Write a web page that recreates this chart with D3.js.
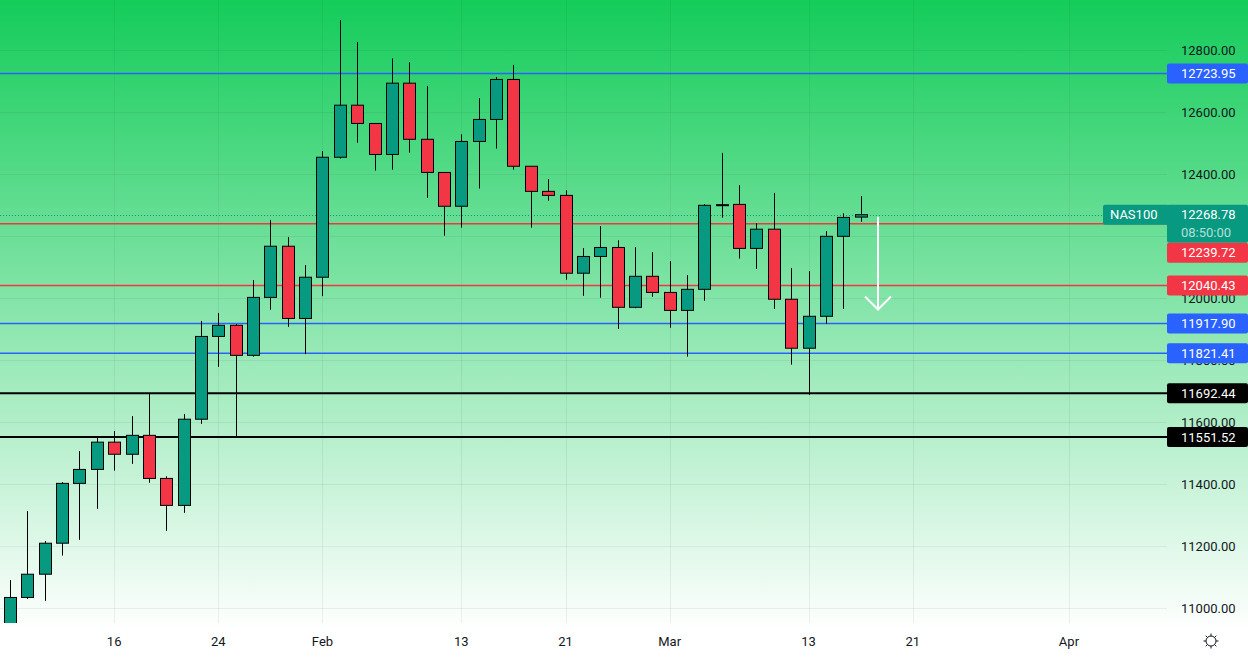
<!DOCTYPE html>
<html>
<head>
<meta charset="utf-8">
<script src="https://cdn.jsdelivr.net/npm/d3@7/dist/d3.min.js"></script>
<style>
  html, body { margin: 0; padding: 0; background: #fff; }
  svg { display: block; font-family: Roboto, "Liberation Sans", sans-serif; }
</style>
</head>
<body>
<svg id="chart" width="1248" height="658"></svg>
<script>
(function () {
  'use strict';

  // NAS100 daily candles, first bar = 2023-01-06, weekdays only
  var firstDay = '2023-01-06';
  var opens = [10930, 11034, 11109, 11209, 11402, 11447, 11535, 11496, 11557, 11418,
    11331, 11609, 11876, 11912, 11815, 12002, 12167, 11934, 12067, 12454,
    12622, 12563, 12463, 12693, 12512, 12405, 12296, 12505, 12576, 12705,
    12425, 12344, 12331, 12080, 12134, 12163, 11970, 12070, 12018, 11960,
    12028, 12299, 12302, 12160, 12222, 11996, 11838, 11941, 12199, 12261];
  var highs = [11090, 11313, 11216, 11406, 11506, 11551, 11571, 11619, 11693, 11425,
    11626, 11926, 11952, 11916, 12058, 12252, 12197, 12106, 12474, 12897,
    12826, 12563, 12773, 12761, 12684, 12405, 12528, 12645, 12713, 12752,
    12425, 12384, 12348, 12161, 12232, 12186, 12164, 12148, 12119, 12074,
    12303, 12468, 12364, 12241, 12339, 12097, 12087, 12216, 12273, 12329];
  var lows = [10900, 11029, 11023, 11169, 11220, 11320, 11443, 11465, 11404, 11249,
    11307, 11594, 11778, 11555, 11811, 11962, 11907, 11819, 12006, 12450,
    12501, 12411, 12414, 12469, 12323, 12201, 12227, 12353, 12482, 12414,
    12227, 12314, 12059, 12007, 12001, 11900, 11967, 12004, 11904, 11811,
    11991, 12259, 12127, 12094, 11965, 11785, 11687, 11917, 11965, 12246];
  var closes = [11034, 11109, 11209, 11402, 11447, 11535, 11496, 11557, 11418, 11331,
    11609, 11876, 11912, 11815, 12002, 12167, 11934, 12067, 12454, 12622,
    12563, 12463, 12693, 12512, 12405, 12296, 12505, 12576, 12705, 12425,
    12344, 12331, 12080, 12134, 12163, 11970, 12070, 12018, 11960, 12028,
    12299, 12301, 12160, 12222, 11996, 11838, 11941, 12199, 12260, 12268.78];

  // horizontal levels drawn on the chart
  var levelPrices = [12723.95, 12239.72, 12040.43, 11917.90, 11821.41, 11692.44, 11551.52];
  var levelKinds = ['blue', 'red', 'red', 'blue', 'blue', 'black', 'black'];

  var symbol = 'NAS100';
  var lastPrice = 12268.78;
  var countdown = '08:50:00';

  var priceTicks = [11000, 11200, 11400, 11600, 11800, 12000, 12200, 12400, 12600, 12800];
  var dateTickDays = ['2023-01-16', '2023-01-24', '2023-02-01', '2023-02-13', '2023-02-21',
    '2023-03-01', '2023-03-13', '2023-03-21', '2023-04-03'];
  var dateTickLabels = ['16', '24', 'Feb', '13', '21', 'Mar', '13', '21', 'Apr'];

  // projected move (white arrow), bar index and prices
  var arrowBar = 50;
  var arrowFrom = 12262;
  var arrowTo = 11963;

  var colors = {
    up: '#089981', down: '#f23645', blue: '#2962ff', red: '#f23645', black: '#000000',
    text: '#131722'
  };

  var W = 1248, H = 658;
  var plotW = 1167, plotH = 623;

  // trading-day index (weekdays) from the first bar
  function barIndex(dayStr) {
    var d0 = new Date(firstDay + 'T00:00:00Z');
    var d1 = new Date(dayStr + 'T00:00:00Z');
    var n = 0;
    for (var t = new Date(d0); t < d1; t.setUTCDate(t.getUTCDate() + 1)) {
      var wd = t.getUTCDay();
      if (wd !== 0 && wd !== 6) n++;
    }
    return n;
  }

  var x = d3.scaleLinear().domain([0, 61]).range([10, 10 + 61 * 17.36]);
  var y = d3.scaleLinear().domain([11000, 12800]).range([608, 50]);

  var svg = d3.select('#chart');
  var defs = svg.append('defs');

  var grad = defs.append('linearGradient').attr('id', 'bg')
    .attr('x1', 0).attr('y1', 0).attr('x2', 0).attr('y2', 1);
  grad.append('stop').attr('offset', '0%').attr('stop-color', '#14cc5a');
  grad.append('stop').attr('offset', '100%').attr('stop-color', '#ffffff');

  defs.append('clipPath').attr('id', 'plotClip')
    .append('rect').attr('x', 0).attr('y', 0).attr('width', plotW).attr('height', plotH);

  svg.append('rect').attr('x', 0).attr('y', 0).attr('width', W).attr('height', H).attr('fill', '#ffffff');
  svg.append('rect').attr('x', 0).attr('y', 0).attr('width', W).attr('height', plotH + 8)
    .attr('fill', 'url(#bg)');

  // grid
  var grid = svg.append('g').attr('stroke', 'rgba(42,46,57,0.07)').attr('stroke-width', 1);
  grid.selectAll('.hg').data(priceTicks).enter().append('line')
    .attr('x1', 0).attr('x2', plotW)
    .attr('y1', function (d) { return Math.round(y(d)) + 0.5; })
    .attr('y2', function (d) { return Math.round(y(d)) + 0.5; });
  grid.selectAll('.vg').data(dateTickDays).enter().append('line')
    .attr('y1', 0).attr('y2', plotH)
    .attr('x1', function (d) { return Math.round(x(barIndex(d))) + 0.5; })
    .attr('x2', function (d) { return Math.round(x(barIndex(d))) + 0.5; });

  // levels
  var levels = levelPrices.map(function (p, i) { return { price: p, kind: levelKinds[i] }; });
  svg.append('g').selectAll('line').data(levels).enter().append('line')
    .attr('x1', 0).attr('x2', plotW)
    .attr('y1', function (d) { return y(d.price); })
    .attr('y2', function (d) { return y(d.price); })
    .attr('stroke', function (d) { return colors[d.kind]; })
    .attr('stroke-width', function (d) { return d.kind === 'black' ? 2 : 1.5; });

  // last price dotted line
  svg.append('line')
    .attr('x1', 0).attr('x2', plotW)
    .attr('y1', Math.round(y(lastPrice)) + 0.5).attr('y2', Math.round(y(lastPrice)) + 0.5)
    .attr('stroke', colors.up).attr('stroke-width', 1).attr('stroke-dasharray', '1,2');

  // candles
  var bars = opens.map(function (o, i) {
    return { i: i, o: o, h: highs[i], l: lows[i], c: closes[i] };
  });
  var cg = svg.append('g').attr('clip-path', 'url(#plotClip)');
  var candle = cg.selectAll('.candle').data(bars).enter().append('g').attr('class', 'candle');
  candle.append('line')
    .attr('x1', function (d) { return Math.round(x(d.i)) + 0.5; })
    .attr('x2', function (d) { return Math.round(x(d.i)) + 0.5; })
    .attr('y1', function (d) { return y(d.h); })
    .attr('y2', function (d) { return y(d.l); })
    .attr('stroke', '#000').attr('stroke-width', 1);
  candle.append('rect')
    .attr('x', function (d) { return Math.round(x(d.i)) - 5.5; })
    .attr('width', 12)
    .attr('y', function (d) { return y(Math.max(d.o, d.c)); })
    .attr('height', function (d) { return Math.max(1, Math.abs(y(d.o) - y(d.c))); })
    .attr('fill', function (d) { return d.c >= d.o ? colors.up : colors.down; })
    .attr('stroke', '#000').attr('stroke-width', 1);

  // arrow
  var ax = x(arrowBar), ay1 = y(arrowFrom), ay2 = y(arrowTo);
  svg.append('path')
    .attr('d', 'M' + ax + ',' + ay1 + 'L' + ax + ',' + ay2 +
      'M' + (ax - 13) + ',' + (ay2 - 13) + 'L' + ax + ',' + ay2 + 'L' + (ax + 13) + ',' + (ay2 - 13))
    .attr('fill', 'none').attr('stroke', '#ffffff').attr('stroke-width', 2);

  // price labels, stacked so they do not overlap
  var lab = [{ price: lastPrice, kind: 'last', h: 38 }].concat(levels.map(function (l) {
    return { price: l.price, kind: l.kind, h: 20 };
  }));
  lab.sort(function (a, b) { return b.price - a.price; });
  var prevBottom = -1e9;
  lab.forEach(function (d) {
    var top = d.kind === 'last' ? y(d.price) - 10 : y(d.price) - d.h / 2;
    d.top = Math.max(top, prevBottom);
    prevBottom = d.top + d.h;
  });

  // price axis ticks (skip ones fully hidden under a label box)
  var shownTicks = priceTicks.filter(function (v) {
    var ty = y(v);
    return !lab.some(function (d) { return ty - 5 >= d.top && ty + 5 <= d.top + d.h; });
  });
  svg.append('g').selectAll('text').data(shownTicks).enter().append('text')
    .attr('x', 1181).attr('y', function (d) { return y(d); })
    .attr('dy', '0.35em').attr('font-size', 13).attr('fill', colors.text)
    .text(function (d) { return d3.format('.2f')(d); });

  // date axis
  svg.append('g').selectAll('text').data(dateTickDays).enter().append('text')
    .attr('x', function (d) { return x(barIndex(d)); }).attr('y', 641)
    .attr('dy', '0.35em').attr('text-anchor', 'middle')
    .attr('font-size', 13).attr('fill', colors.text)
    .text(function (d, i) { return dateTickLabels[i]; });

  var lg = svg.append('g');
  lab.forEach(function (d) {
    var fill = d.kind === 'last' ? colors.up : colors[d.kind];
    lg.append('rect').attr('x', plotW).attr('y', d.top).attr('width', W - plotW).attr('height', d.h)
      .attr('rx', 2).attr('fill', fill);
    lg.append('text').attr('x', 1181).attr('y', d.top + 10).attr('dy', '0.35em')
      .attr('font-size', 13).attr('fill', '#ffffff')
      .text(d3.format('.2f')(d.price));
    if (d.kind === 'last') {
      lg.append('text').attr('x', 1181).attr('y', d.top + 28).attr('dy', '0.35em')
        .attr('font-size', 13).attr('fill', 'rgba(255,255,255,0.7)').text(countdown);
      lg.append('rect').attr('x', 1103).attr('y', d.top).attr('width', plotW - 1103 + 2).attr('height', 20)
        .attr('rx', 2).attr('fill', colors.up);
      lg.append('text').attr('x', 1110).attr('y', d.top + 10).attr('dy', '0.35em')
        .attr('font-size', 13).attr('fill', '#ffffff').text(symbol);
    }
  });

  // settings icon
  var sun = svg.append('g').attr('transform', 'translate(1211,641)')
    .attr('stroke', colors.text).attr('fill', 'none').attr('stroke-width', 1);
  sun.append('circle').attr('r', 5);
  d3.range(8).forEach(function (k) {
    var a = k * Math.PI / 4;
    sun.append('line')
      .attr('x1', Math.cos(a) * 5).attr('y1', Math.sin(a) * 5)
      .attr('x2', Math.cos(a) * 7.5).attr('y2', Math.sin(a) * 7.5);
  });
})();
</script>
</body>
</html>
